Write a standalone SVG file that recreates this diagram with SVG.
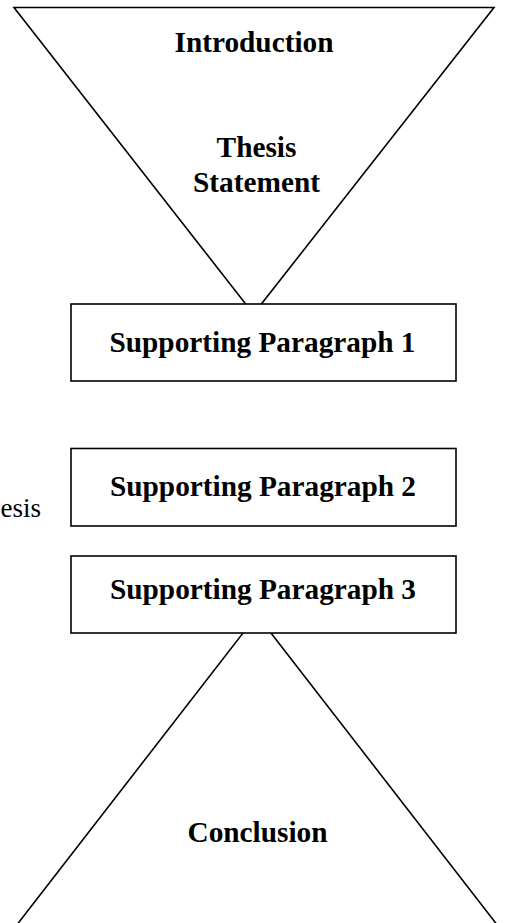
<svg xmlns="http://www.w3.org/2000/svg" width="505" height="923" viewBox="0 0 505 923">
<style>
.shape{fill:#fff;stroke:#000;stroke-width:1.6}
.lbl{font-family:"Liberation Serif","Times New Roman",serif;font-weight:bold;font-size:29.3px;fill:#000;text-anchor:middle}
.plain{font-family:"Liberation Serif","Times New Roman",serif;font-size:27px;fill:#000}
</style>
<rect width="505" height="923" fill="#fff"/>
<g id="introduction">
<polygon class="shape" points="14,7.5 494,7.5 253.5,314"/>
<text class="lbl" x="254" y="52">Introduction</text>
<text class="lbl" x="256.5" y="157">Thesis</text>
<text class="lbl" x="256.5" y="192">Statement</text>
</g>
<g id="conclusion">
<polygon class="shape" points="257,615 505,935 9,935"/>
<text class="lbl" x="257.5" y="842">Conclusion</text>
</g>
<g id="sp1">
<rect class="shape" x="71" y="304" width="385" height="77"/>
<text class="lbl" x="262.5" y="352">Supporting Paragraph 1</text>
</g>
<g id="sp2">
<rect class="shape" x="71" y="448.5" width="385" height="77.5"/>
<text class="lbl" x="263" y="496">Supporting Paragraph 2</text>
</g>
<g id="sp3">
<rect class="shape" x="71" y="556" width="385" height="77"/>
<text class="lbl" x="263" y="599">Supporting Paragraph 3</text>
</g>
<g id="side-label">
<text class="plain" x="41" y="517" text-anchor="end">esis</text>
</g>
<g id="connectors"></g>
</svg>
